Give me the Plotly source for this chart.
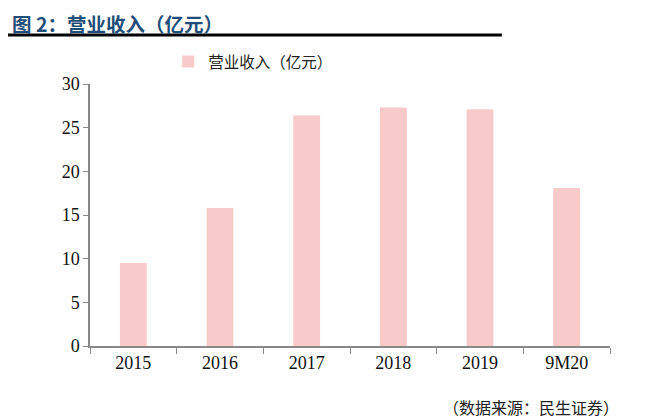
import plotly.graph_objects as go

categories = ["2015", "2016", "2017", "2018", "2019", "9M20"]
revenue = [9.5, 15.8, 26.4, 27.3, 27.1, 18.1]
series_name = "营业收入（亿元）"
title_text = "图 2：营业收入（亿元）"
source_text = "（数据来源：民生证券）"

fig = go.Figure()
fig.add_trace(go.Bar(
    x=categories, y=revenue, name=series_name,
    marker=dict(color="#F9CACA", line=dict(width=0)),
    width=0.31, showlegend=True,
))

fig.update_layout(
    width=642, height=412,
    margin=dict(l=82, r=40, t=76, b=74, autoexpand=False),
    paper_bgcolor="white", plot_bgcolor="white",
    font=dict(family="Liberation Serif, Times New Roman, serif", size=16, color="#111"),
    legend=dict(
        orientation="h", x=0.382, y=0.869, xref="container", yref="container",
        xanchor="center", yanchor="middle",
        font=dict(family="Noto Sans CJK SC", size=15.5, color="#222"),
        itemwidth=30,
    ),
    xaxis=dict(
        type="category", showline=True, linecolor="#888", linewidth=1.5,
        ticks="outside", tickson="boundaries", ticklen=6, tickcolor="#888",
        showgrid=False, tickfont=dict(size=18, family="Liberation Serif", color="#111"),
    ),
    yaxis=dict(
        range=[0, 30], dtick=5, showline=True, linecolor="#888", linewidth=1.5,
        ticks="outside", ticklen=5, tickcolor="#888", showgrid=False,
        zeroline=False, tickfont=dict(size=18, family="Liberation Serif", color="#111"),
    ),
    shapes=[dict(type="line", xref="paper", yref="paper",
                 x0=-0.167, x1=0.792, y0=1.187, y1=1.187,
                 line=dict(color="black", width=3))],
    annotations=[
        dict(text="<b>" + title_text + "</b>", xref="paper", yref="paper",
             x=-0.152, y=1.29, xanchor="left", yanchor="top", showarrow=False,
             borderpad=0,
             font=dict(family="Noto Sans CJK SC", size=19.5, color="#1F4E79")),
        dict(text=source_text, xref="paper", yref="paper",
             x=1.02, y=-0.282, xanchor="right", yanchor="bottom", showarrow=False,
             borderpad=0,
             font=dict(family="Noto Sans CJK SC", size=16, color="#222")),
    ],
)

fig.write_html("out.html")
